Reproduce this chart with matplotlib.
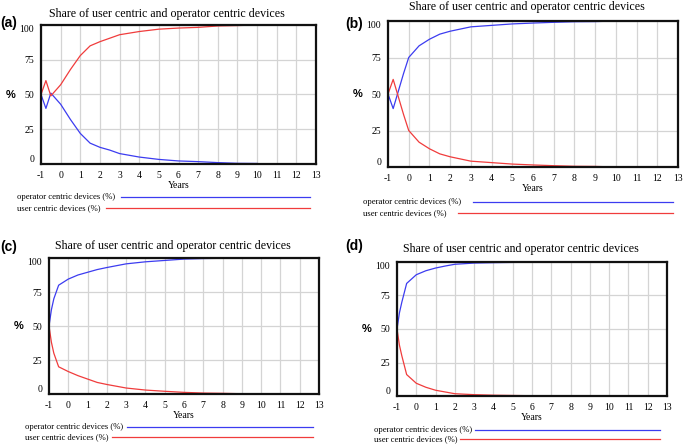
import matplotlib
matplotlib.use("Agg")
import matplotlib.pyplot as plt
from matplotlib.lines import Line2D

plt.rcParams.update({
    "font.family": "Liberation Serif",
    "font.size": 7,
})

BLUE = "#3c3cf0"
RED = "#f03c3c"

TITLE = "Share of user centric and operator centric devices"
YTICKS = [0, 25, 50, 75, 100]
XTICKS = list(range(-1, 14))

# (a)
t_a = [-1, -0.75, -0.5, -0.25, 0, 0.5, 1, 1.5, 2, 2.5, 3, 4, 5, 6, 7, 8, 9, 10]
op_a = [50, 40, 51, 47, 43, 32, 22, 15, 12, 10, 7.5, 5, 3.3, 2.2, 1.7, 1, 0.5, 0.4]
us_a = [50, 60, 49, 53, 57, 68, 78, 85, 88, 90.5, 93, 95.3, 97, 97.8, 98.3, 99.3, 99.6, 100]

# (b)
t_b = [-1, -0.75, -0.5, -0.25, 0, 0.5, 1, 1.5, 2, 2.5, 3, 4, 5, 6, 7, 8, 9, 10]
op_b = [50, 40, 52, 64, 75, 83, 87.5, 91, 93, 94.5, 96, 97, 98, 98.6, 99.1, 99.5, 99.6, 100]
us_b = [50, 60, 48, 36, 25, 17, 12.5, 9, 7, 5.5, 4, 3, 2, 1.4, 0.9, 0.5, 0.4, 0]

# (c)
t_c = [-1, -0.875, -0.75, -0.5, 0, 0.5, 1, 1.5, 2, 3, 4, 5, 6, 7, 8, 9, 10]
op_c = [50, 62, 70, 80, 84.5, 87.5, 89.5, 91.5, 93, 95.7, 97.2, 98.2, 99.2, 99.6, 99.8, 100, 100]
us_c = [50, 38, 30, 20, 16.5, 13.5, 11, 8.5, 7, 4.4, 2.9, 2, 1.2, 0.7, 0.5, 0.2, 0]

# (d)
t_d = [-1, -0.875, -0.75, -0.5, 0, 0.5, 1, 1.5, 2, 3, 4, 5, 6, 7, 8, 9, 10]
op_d = [50, 62, 70, 84, 90.5, 93.5, 95.5, 97, 98.3, 99.2, 99.5, 99.7, 99.8, 100, 100, 100, 100]
us_d = [50, 38, 30, 16, 9.5, 6.5, 4.3, 3, 1.7, 1, 0.6, 0.4, 0.2, 0, 0, 0, 0]

W, H = 685, 445
fig = plt.figure(figsize=(W / 100, H / 100), dpi=100)


def fx(px):
    return px / W


def fy(py):
    return 1 - py / H


def add_panel(box, t, op, us, tag, tag_xy, title_xy, legend):
    l, t_, r, b = box
    ax = fig.add_axes([fx(l), fy(b), fx(r - l), fy(t_) - fy(b)])
    ax.plot(t, op, color=BLUE, lw=0.9)
    ax.plot(t, us, color=RED, lw=0.9)
    ax.set_xlim(-1, 13)
    ax.set_ylim(0, 100)
    ax.set_xticks(XTICKS)
    ax.set_yticks(YTICKS)
    ax.set_xticklabels([str(v) for v in XTICKS])
    ylabels = ax.set_yticklabels([str(v) for v in YTICKS])
    ylabels[0].set_va("bottom")
    ylabels[-1].set_va("top")
    ax.tick_params(length=0, pad=5)
    ax.grid(True, color="#d4d4d4", lw=0.9)
    ax.set_axisbelow(True)
    for s in ax.spines.values():
        s.set_linewidth(1.6)
        s.set_color("#111111")
    ax.set_xlabel("Years", labelpad=1)
    ax.set_ylabel("%", rotation=0, fontweight="bold", family="Liberation Sans",
                  fontsize=8, labelpad=6, va="center")

    fig.text(fx(title_xy[0]), fy(title_xy[1]), TITLE, ha="center", va="center",
             fontsize=8.6)
    fig.text(fx(tag_xy[0]), fy(tag_xy[1]), tag, ha="left", va="center",
             fontsize=10, fontweight="bold", family="Liberation Sans")

    (tx, y1, l1, y2, l2, rx) = legend
    fig.text(fx(tx), fy(y1), "operator centric devices (%)", ha="left", va="center", fontsize=6.2)
    fig.text(fx(tx), fy(y2), "user centric devices (%)", ha="left", va="center", fontsize=6.2)
    fig.add_artist(Line2D([fx(l1), fx(rx)], [fy(y1), fy(y1)], color=BLUE, lw=0.9))
    fig.add_artist(Line2D([fx(l2), fx(rx)], [fy(y2), fy(y2)], color=RED, lw=0.9))
    return ax


add_panel((41, 25, 316, 164), t_a, op_a, us_a, "(a)", (0, 23), (167, 14),
          (17, 197, 121, 208, 106, 310))
add_panel((388, 21, 678, 167), t_b, op_b, us_b, "(b)", (345, 24), (527, 7),
          (363, 202, 473, 213, 458, 673))
add_panel((49, 258, 319, 394), t_c, op_c, us_c, "(c)", (0, 247), (173, 246),
          (25, 427, 127, 437, 112, 313))
add_panel((397, 262, 667, 396), t_d, op_d, us_d, "(d)", (345, 246), (521, 249),
          (374, 430, 475, 439, 460, 660))

fig.savefig("out.png", dpi=100)
